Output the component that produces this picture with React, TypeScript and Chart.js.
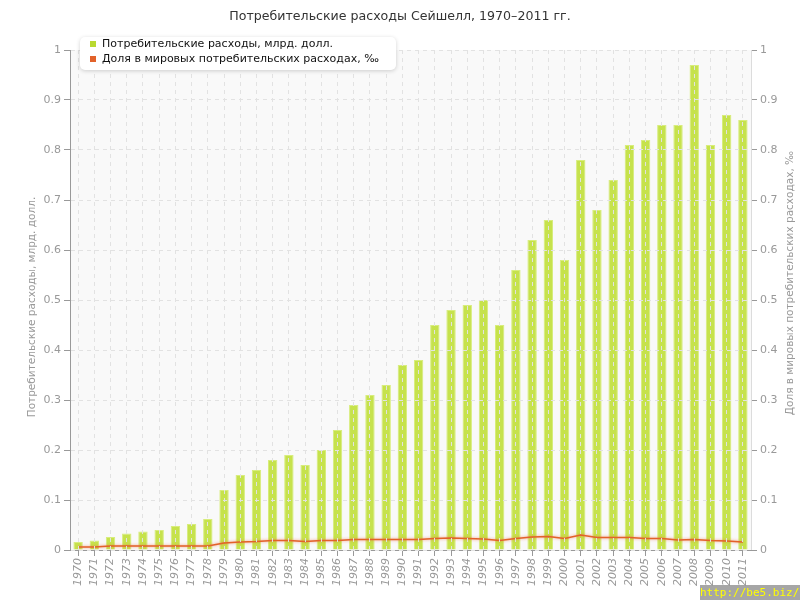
import React, { useEffect, useRef } from "react";
import { Chart, registerables } from "chart.js";

Chart.register(...registerables);

const years = [
  "1970","1971","1972","1973","1974","1975","1976","1977","1978","1979",
  "1980","1981","1982","1983","1984","1985","1986","1987","1988","1989",
  "1990","1991","1992","1993","1994","1995","1996","1997","1998","1999",
  "2000","2001","2002","2003","2004","2005","2006","2007","2008","2009",
  "2010","2011",
];

const spending = [
  0.016, 0.019, 0.026, 0.033, 0.037, 0.040, 0.048, 0.052, 0.062, 0.12,
  0.15, 0.16, 0.18, 0.19, 0.17, 0.20, 0.24, 0.29, 0.31, 0.33,
  0.37, 0.38, 0.45, 0.48, 0.49, 0.50, 0.45, 0.56, 0.62, 0.66,
  0.58, 0.78, 0.68, 0.74, 0.81, 0.82, 0.85, 0.85, 0.97, 0.81,
  0.87, 0.86,
];

const worldShare = [
  0.006, 0.006, 0.008, 0.008, 0.008, 0.008, 0.008, 0.008, 0.008, 0.014,
  0.016, 0.017, 0.019, 0.019, 0.017, 0.019, 0.019, 0.021, 0.021, 0.021,
  0.021, 0.021, 0.023, 0.024, 0.023, 0.022, 0.019, 0.023, 0.026, 0.027,
  0.023, 0.030, 0.025, 0.025, 0.025, 0.023, 0.023, 0.020, 0.021, 0.019,
  0.018, 0.016,
];

const titleText = "Потребительские расходы Сейшелл, 1970–2011 гг.";
const seriesNames = [
  "Потребительские расходы, млрд. долл.",
  "Доля в мировых потребительских расходах, ‰",
];
const leftAxisTitle = "Потребительские расходы, млрд. долл.";
const rightAxisTitle = "Доля в мировых потребительских расходах, ‰";
const watermark = "http://be5.biz/";

const FONT = "'DejaVu Sans', Verdana, sans-serif";

const decorPlugin = {
  id: "decor",
  beforeDraw(chart: any) {
    const { ctx, chartArea } = chart;
    ctx.save();
    ctx.fillStyle = "#ffffff";
    ctx.fillRect(0, 0, chart.width, chart.height);
    ctx.fillStyle = "#f9f9f9";
    ctx.fillRect(chartArea.left, chartArea.top, chartArea.right - chartArea.left, chartArea.bottom - chartArea.top);
    ctx.restore();
  },
  beforeDatasetDraw(chart: any, args: any) {
    if (args.index === 1) {
      const ctx = chart.ctx;
      ctx.save();
      ctx.shadowColor = "rgba(235,110,60,0.7)";
      ctx.shadowBlur = 3;
    }
  },
  afterDatasetDraw(chart: any, args: any) {
    if (args.index === 1) {
      chart.ctx.restore();
    }
  },
  afterDraw(chart: any) {
    const { ctx } = chart;
    ctx.save();
    // title
    ctx.fillStyle = "#333";
    ctx.font = `12.6px ${FONT}`;
    ctx.textAlign = "center";
    ctx.textBaseline = "middle";
    ctx.fillText(titleText, 400, 17);

    // axis titles
    ctx.fillStyle = "#999";
    ctx.font = `10.5px ${FONT}`;
    ctx.save();
    ctx.translate(32, 307);
    ctx.rotate(-Math.PI / 2);
    ctx.fillText(leftAxisTitle, 0, 0);
    ctx.restore();
    ctx.save();
    ctx.translate(790, 283);
    ctx.rotate(-Math.PI / 2);
    ctx.fillText(rightAxisTitle, 0, 0);
    ctx.restore();

    // legend box
    ctx.save();
    ctx.shadowColor = "rgba(0,0,0,0.18)";
    ctx.shadowBlur = 4;
    ctx.shadowOffsetY = 1;
    ctx.fillStyle = "#ffffff";
    ctx.beginPath();
    (ctx as any).roundRect(80, 37, 316, 33, 5);
    ctx.fill();
    ctx.restore();

    ctx.fillStyle = "#b9d930";
    ctx.fillRect(90, 41, 6, 6);
    ctx.fillStyle = "#e2622a";
    ctx.fillRect(90, 56, 6, 6);
    ctx.fillStyle = "#111";
    ctx.font = `11px ${FONT}`;
    ctx.textAlign = "left";
    ctx.textBaseline = "middle";
    ctx.fillText(seriesNames[0], 102, 44);
    ctx.fillText(seriesNames[1], 102, 59);

    // watermark
    ctx.fillStyle = "rgba(150,150,150,0.85)";
    ctx.fillRect(700, 585, 100, 15);
    ctx.fillStyle = "#ffff00";
    ctx.font = `11px 'DejaVu Sans Mono', monospace`;
    ctx.textAlign = "left";
    ctx.textBaseline = "middle";
    ctx.fillText(watermark, 700, 593);
    ctx.restore();
  },
};

export default function App() {
  const ref = useRef<HTMLCanvasElement | null>(null);

  useEffect(() => {
    if (!ref.current) return;
    const tickFont = { family: FONT, size: 11 };
    const chart = new Chart(ref.current, {
      type: "bar",
      data: {
        labels: years,
        datasets: [
          {
            type: "bar",
            label: seriesNames[0],
            data: spending,
            yAxisID: "y",
            backgroundColor: "rgba(192,223,56,0.9)",
            borderColor: "rgba(216,237,125,1)",
            borderWidth: 1,
            barPercentage: 0.58,
            categoryPercentage: 1,
            order: 2,
          },
          {
            type: "line",
            label: seriesNames[1],
            data: worldShare,
            yAxisID: "y1",
            borderColor: "#e2622a",
            borderWidth: 1.5,
            pointRadius: 0,
            tension: 0,
            fill: false,
            order: 1,
          } as any,
        ],
      },
      options: {
        responsive: false,
        animation: false,
        layout: { padding: { top: 50, left: 0, right: 0, bottom: 0 } },
        plugins: {
          legend: { display: false },
          title: { display: false },
          tooltip: { enabled: false },
        },
        scales: {
          x: {
            offset: true,
            afterFit: (s: any) => { s.height = 50; },
            grid: {
              offset: false,
              color: "#e2e2e2",
              tickColor: "#999",
              tickLength: 6,
              tickBorderDash: [],
              z: 1,
            },
            border: { color: "#999", width: 1, dash: [4, 4], z: 1 },
            ticks: {
              color: "#999",
              font: { ...tickFont, style: "italic" },
              minRotation: 90,
              maxRotation: 90,
              autoSkip: false,
              padding: 2,
            },
          },
          y: {
            position: "left",
            min: 0,
            max: 1,
            afterFit: (s: any) => { s.width = 70; },
            grid: {
              color: "#e2e2e2",
              tickColor: "#999",
              tickLength: 6,
              tickBorderDash: [],
              z: 1,
            },
            border: { color: "#999", width: 1, dash: [4, 4], z: 1 },
            ticks: {
              stepSize: 0.1,
              color: "#999",
              font: tickFont,
              padding: 3,
              callback: (v: any) => String(+Number(v).toFixed(1)),
            },
          },
          y1: {
            position: "right",
            min: 0,
            max: 1,
            afterFit: (s: any) => { s.width = 49; },
            grid: {
              drawOnChartArea: false,
              tickColor: "#999",
              tickLength: 6,
            },
            border: { color: "#dcdcdc", width: 1 },
            ticks: {
              stepSize: 0.1,
              color: "#999",
              font: tickFont,
              padding: 3,
              callback: (v: any) => String(+Number(v).toFixed(1)),
            },
          },
        },
      },
      plugins: [decorPlugin],
    } as any);
    return () => chart.destroy();
  }, []);

  return (
    <div style={{ position: "fixed", left: 0, top: 0, width: 800, height: 600, background: "#fff" }}>
      <canvas ref={ref} width={800} height={600} style={{ display: "block" }} />
    </div>
  );
}
